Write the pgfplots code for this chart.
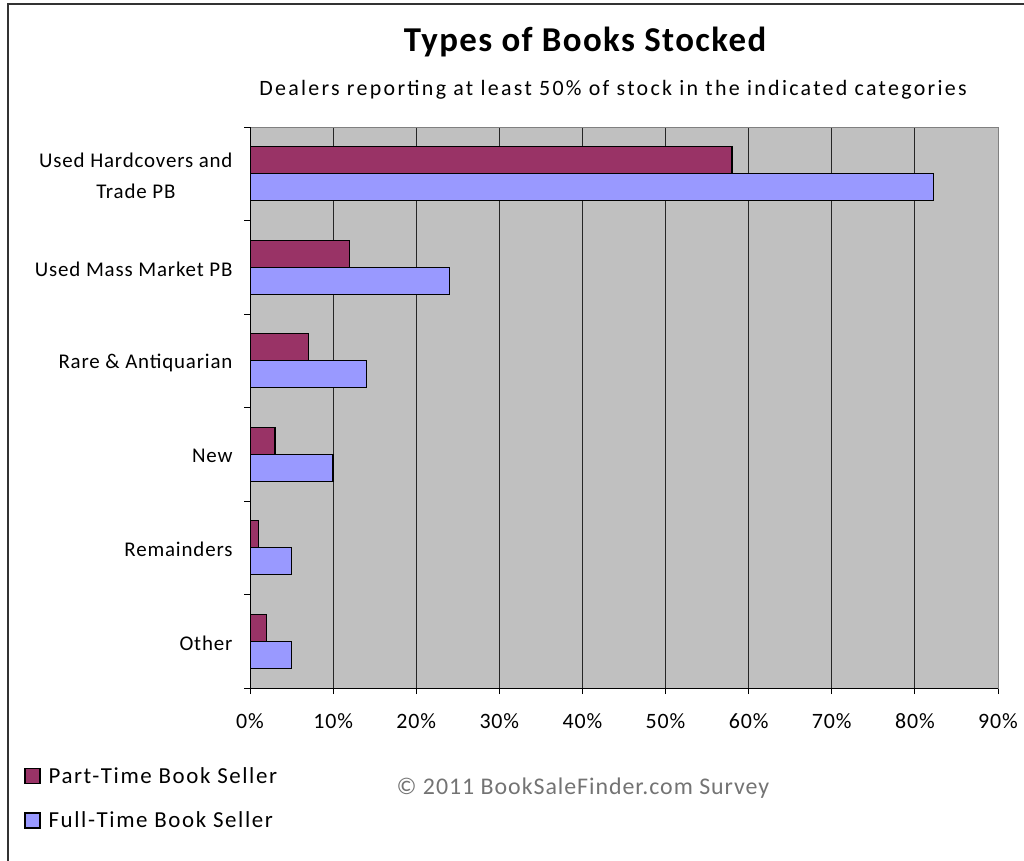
\documentclass[border=0pt]{standalone}
\usepackage{pgfplots}
\pgfplotsset{compat=1.18}
\usepackage{fontspec}
\setmainfont{Carlito}[LetterSpace=4]
\definecolor{parttime}{HTML}{993366}
\definecolor{fulltime}{HTML}{9999FF}
\definecolor{plotbg}{HTML}{C0C0C0}

\begin{document}
\begin{tikzpicture}[x=1bp,y=-1bp]
  \useasboundingbox (0,0) rectangle (1024,861);
  % outer chart frame (only top and left edges are visible)
  \draw[line width=1.5bp, black!80] (8,861) -- (8,4) -- (1024,4);

  \node[font=\fontsize{35}{40}\selectfont\bfseries] at (585,42) {Types of Books Stocked};
  \node[font=\fontsize{22}{24}\selectfont\addfontfeature{LetterSpace=10.5}] at (613,90)
    {Dealers reporting at least 50\% of stock in the indicated categories};
  \node[font=\fontsize{24}{28}\selectfont, text=black!55] at (583,788)
    {© 2011 BookSaleFinder.com Survey};

  \begin{axis}[
      at={(250bp,-688bp)}, anchor=south west,
      scale only axis,
      width=748bp, height=561bp,
      xbar=0pt, bar width=27bp,
      xmin=0, xmax=90,
      ymin=-0.5, ymax=5.5,
      y dir=reverse,
      axis background/.style={fill=plotbg},
      axis line style={black!50, line width=1bp},
      xmajorgrids,
      major grid style={black!85, line width=1bp},
      tick pos=left,
      xtick={0,10,...,90},
      xticklabel={\pgfmathprintnumber{\tick}\%},
      /pgf/number format/assume math mode=true,
      tick align=outside,
      xtick style={black, line width=1bp},
      major tick length=6bp,
      ytick={0,...,5},
      yticklabels={{Used Hardcovers and\\Trade PB},Used Mass Market PB,Rare \& Antiquarian,New,Remainders,Other},
      ytick style={draw=none},
      extra y ticks={-0.5,0.5,1.5,2.5,3.5,4.5,5.5},
      extra y tick labels={},
      extra y tick style={ytick style={draw=black, line width=1bp}},
      yticklabel style={font=\fontsize{21}{31}\selectfont, align=center, xshift=-8bp, yshift=-2bp},
      xticklabel style={font=\fontsize{22}{24}\selectfont, yshift=-16bp},
      legend style={at={(axis description cs:0,0)}, anchor=north west,
        xshift=-229bp, yshift=-75bp, draw=none, fill=none,
        font=\fontsize{23}{26}\selectfont\addfontfeature{LetterSpace=7},
        row sep=23bp, column sep=6bp},
      legend cell align=left,
      legend image code/.code={\draw[#1, line width=1.4bp] (0bp,-7.5bp) rectangle (15bp,7.5bp);},
    ]
    \addplot[fill=parttime, draw=black, line width=1.3bp, bar shift=13.5bp] coordinates {
      (58,0) (12,1) (7,2) (3,3) (1,4) (2,5)
    };
    \addlegendentry{Part-Time Book Seller}
    \addplot[fill=fulltime, draw=black, line width=1.3bp, bar shift=-13.5bp] coordinates {
      (82.2,0) (24,1) (14,2) (10,3) (5,4) (5,5)
    };
    \addlegendentry{Full-Time Book Seller}
    \draw[black, line width=1bp] (rel axis cs:0,1) -- (rel axis cs:0,0) -- (rel axis cs:1,0);
  \end{axis}
\end{tikzpicture}
\end{document}
